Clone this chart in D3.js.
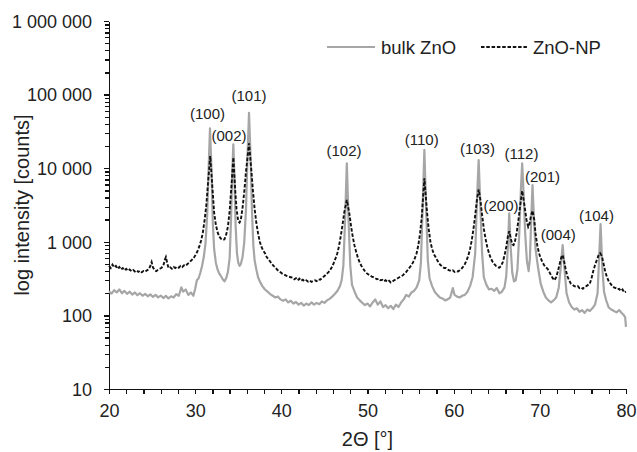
<!DOCTYPE html>
<html>
<head>
<meta charset="utf-8">
<script src="https://cdn.jsdelivr.net/npm/d3@7"></script>
<style>
  body { margin: 0; background: #fff; }
  svg { display: block; font-family: "Liberation Sans", Arial, sans-serif; }
  .axis path, .axis line { stroke: #111; stroke-width: 1.3px; shape-rendering: crispEdges; }
  .axis text { fill: #222; font-size: 18px; }
</style>
</head>
<body>
<svg width="637" height="452"></svg>
<script>
// 2θ [°] and counts
var bulkZnO = [
  [20.0,212],[20.3,198],[20.6,220],[20.9,205],[21.2,225],[21.5,200],[21.8,215],[22.1,196],[22.4,210],[22.7,192],
  [23.0,205],[23.3,188],[23.6,200],[23.9,185],[24.2,196],[24.5,182],[24.8,193],[25.1,178],[25.4,190],[25.7,176],
  [26.0,186],[26.3,172],[26.6,184],[26.9,170],[27.2,182],[27.5,175],[27.8,195],[28.1,185],[28.4,240],[28.6,210],
  [28.9,225],[29.2,190],[29.5,205],[29.8,185],[30.0,230],[30.2,300],[30.4,320],[30.6,380],[30.8,470],[31.0,620],
  [31.2,950],[31.4,2400],[31.55,9000],[31.72,34800],[31.9,9000],[32.05,1800],[32.2,800],[32.4,520],[32.6,420],[32.8,370],
  [33.0,340],[33.2,310],[33.4,290],[33.6,320],[33.8,390],[34.0,600],[34.15,1800],[34.3,8000],[34.43,21100],[34.55,8000],
  [34.7,1600],[34.85,700],[35.0,520],[35.15,470],[35.3,500],[35.5,620],[35.7,1000],[35.9,2800],[36.05,12000],[36.25,56700],
  [36.45,12000],[36.6,2500],[36.75,900],[36.9,560],[37.1,420],[37.3,330],[37.5,290],[37.8,250],[38.1,225],[38.4,210],
  [38.7,195],[39.0,185],[39.3,175],[39.6,180],[39.9,165],[40.2,158],[40.5,165],[40.8,150],[41.1,158],[41.4,145],
  [41.7,152],[42.0,140],[42.3,148],[42.6,136],[42.9,145],[43.2,138],[43.5,150],[43.8,140],[44.1,148],[44.4,142],
  [44.7,155],[45.0,148],[45.3,160],[45.6,168],[45.9,180],[46.2,195],[46.5,215],[46.8,250],[47.0,300],[47.2,480],
  [47.4,2000],[47.6,11650],[47.8,2000],[48.0,480],[48.2,260],[48.5,210],[48.8,175],[49.1,160],[49.4,148],[49.7,138],
  [50.0,145],[50.3,132],[50.6,150],[50.9,165],[51.2,140],[51.5,155],[51.8,130],[52.1,138],[52.4,125],[52.7,135],
  [53.0,122],[53.3,140],[53.6,130],[53.9,150],[54.2,165],[54.5,190],[54.8,180],[55.1,205],[55.4,215],[55.7,240],
  [56.0,300],[56.2,520],[56.4,3000],[56.6,17700],[56.8,3000],[57.0,560],[57.2,320],[57.5,250],[57.8,210],[58.1,190],
  [58.4,175],[58.7,170],[59.0,160],[59.3,165],[59.6,175],[59.9,235],[60.1,190],[60.4,180],[60.7,175],[61.0,185],
  [61.3,190],[61.6,210],[61.9,250],[62.2,330],[62.5,700],[62.7,3500],[62.9,12900],[63.1,3000],[63.3,700],[63.5,330],
  [63.8,260],[64.1,225],[64.4,230],[64.7,215],[65.0,235],[65.3,200],[65.6,210],[65.9,240],[66.1,340],[66.3,900],
  [66.45,2440],[66.6,900],[66.8,380],[67.0,290],[67.2,300],[67.4,420],[67.6,1200],[67.8,5000],[67.95,11650],[68.1,5000],
  [68.3,1300],[68.5,550],[68.7,400],[68.85,600],[69.0,2000],[69.15,5910],[69.3,2300],[69.5,800],[69.8,440],[70.1,270],
  [70.4,210],[70.7,175],[71.0,160],[71.3,150],[71.6,160],[71.9,175],[72.2,240],[72.4,420],[72.65,905],[72.9,380],
  [73.1,200],[73.4,150],[73.7,130],[74.0,120],[74.3,125],[74.6,112],[74.9,118],[75.2,108],[75.5,120],[75.8,115],
  [76.1,125],[76.4,140],[76.7,200],[76.85,500],[77.05,1745],[77.25,450],[77.45,210],[77.7,160],[78.0,128],[78.3,120],
  [78.6,115],[78.9,110],[79.2,118],[79.5,108],[79.7,102],[79.9,95],[80.0,70]
];

var znoNP = [
  [20.0,470],[20.2,440],[20.4,490],[20.6,450],[20.8,470],[21.0,430],[21.2,455],[21.4,420],[21.6,440],[21.8,410],
  [22.0,430],[22.2,405],[22.4,420],[22.6,400],[22.8,415],[23.0,395],[23.2,410],[23.4,390],[23.6,405],[23.8,385],
  [24.0,400],[24.2,392],[24.4,410],[24.6,420],[24.8,470],[24.95,530],[25.1,450],[25.3,410],[25.5,400],[25.7,420],
  [25.9,430],[26.1,445],[26.3,470],[26.5,580],[26.6,620],[26.75,520],[26.9,440],[27.1,450],[27.3,430],[27.5,455],
  [27.7,440],[27.9,460],[28.1,445],[28.3,470],[28.5,455],[28.7,480],[28.9,470],[29.1,500],[29.3,520],[29.5,550],
  [29.7,580],[29.9,620],[30.1,680],[30.3,760],[30.5,880],[30.7,1050],[30.9,1350],[31.1,2000],[31.3,3200],[31.5,6500],
  [31.75,14650],[32.0,5500],[32.2,2500],[32.4,1700],[32.6,1350],[32.8,1180],[33.0,1100],[33.2,1060],[33.4,1080],[33.6,1250],
  [33.8,1600],[34.0,2600],[34.2,5500],[34.43,14000],[34.65,5000],[34.8,2800],[35.0,1900],[35.15,1820],[35.3,2000],[35.5,2900],
  [35.7,4800],[35.9,9000],[36.25,21800],[36.5,10000],[36.7,5000],[36.9,2800],[37.1,1800],[37.3,1300],[37.5,1000],[37.7,850],
  [37.9,760],[38.1,700],[38.3,620],[38.5,580],[38.7,540],[38.9,500],[39.1,470],[39.3,450],[39.5,420],[39.7,400],
  [39.9,385],[40.1,370],[40.3,360],[40.5,350],[40.7,340],[40.9,335],[41.1,330],[41.3,325],[41.5,310],[41.7,320],
  [41.9,300],[42.1,315],[42.3,295],[42.5,305],[42.7,290],[42.9,300],[43.1,288],[43.3,298],[43.5,285],[43.7,295],
  [43.9,300],[44.1,292],[44.3,310],[44.5,305],[44.7,320],[44.9,335],[45.1,350],[45.3,370],[45.5,390],[45.7,420],
  [45.9,460],[46.1,520],[46.3,600],[46.5,700],[46.7,880],[46.9,1200],[47.1,1700],[47.3,2500],[47.6,3700],[47.9,2400],
  [48.1,1600],[48.3,1150],[48.5,880],[48.7,720],[48.9,600],[49.1,520],[49.3,470],[49.5,430],[49.7,400],[49.9,375],
  [50.1,360],[50.3,350],[50.5,335],[50.7,330],[50.9,320],[51.1,310],[51.3,315],[51.5,300],[51.7,305],[51.9,290],
  [52.1,300],[52.3,285],[52.5,295],[52.7,280],[52.9,290],[53.1,300],[53.3,310],[53.5,320],[53.7,330],[53.9,340],
  [54.1,350],[54.3,370],[54.5,390],[54.7,420],[54.9,450],[55.1,480],[55.3,530],[55.5,600],[55.7,700],[55.9,900],
  [56.1,1300],[56.3,2200],[56.6,7300],[56.9,2600],[57.1,1500],[57.3,1000],[57.5,800],[57.7,680],[57.9,620],[58.1,560],
  [58.3,510],[58.5,480],[58.7,460],[58.9,440],[59.1,440],[59.3,420],[59.5,410],[59.7,400],[59.9,410],[60.1,390],
  [60.3,400],[60.5,395],[60.7,410],[60.9,430],[61.1,460],[61.3,500],[61.5,560],[61.7,650],[61.9,800],[62.1,1050],
  [62.3,1500],[62.5,2300],[62.7,3700],[62.9,5170],[63.1,3700],[63.3,2300],[63.5,1500],[63.7,1100],[63.9,850],[64.1,700],
  [64.3,600],[64.5,540],[64.7,500],[64.9,470],[65.1,450],[65.3,445],[65.5,470],[65.7,530],[65.9,650],[66.1,850],
  [66.3,1200],[66.45,1390],[66.6,1150],[66.8,920],[66.95,900],[67.1,1000],[67.3,1300],[67.5,1900],[67.7,3000],[67.95,4950],
  [68.2,3200],[68.45,2000],[68.65,1600],[68.8,1750],[68.95,2200],[69.15,2650],[69.35,2000],[69.5,1300],[69.7,900],[69.9,700],
  [70.1,600],[70.3,530],[70.5,480],[70.7,450],[70.9,430],[71.1,390],[71.3,350],[71.5,320],[71.7,300],[71.9,330],
  [72.1,400],[72.3,500],[72.5,620],[72.65,660],[72.8,560],[73.0,420],[73.2,340],[73.4,300],[73.6,270],[73.8,260],
  [74.0,250],[74.2,245],[74.4,250],[74.6,235],[74.8,240],[75.0,230],[75.2,245],[75.4,250],[75.6,260],[75.8,270],
  [76.0,320],[76.2,400],[76.4,480],[76.6,560],[76.8,650],[77.0,700],[77.2,640],[77.4,500],[77.6,390],[77.8,330],
  [78.0,290],[78.2,270],[78.4,250],[78.6,240],[78.8,235],[79.0,225],[79.2,230],[79.4,215],[79.6,225],[79.8,205],
  [80.0,210]
];

// Miller index labels, anchored at (2θ, counts)
var peakLabels = ["(100)", "(002)", "(101)", "(102)", "(110)", "(103)", "(200)", "(112)", "(201)", "(004)", "(104)"];
var peakLabelTheta = [31.43, 33.93, 36.25, 47.27, 56.29, 62.76, 65.49, 67.87, 70.31, 72.14, 76.57];
var peakLabelCounts = [46500, 23400, 81900, 14650, 20650, 15600, 2620, 13340, 6495, 1058, 1917];

var xTicks = [20, 30, 40, 50, 60, 70, 80];
var xMinorTicks = d3.range(20, 81, 2);
var yTicks = [10, 100, 1000, 10000, 100000, 1000000];
var yTickLabels = ["10", "100", "1 000", "10 000", "100 000", "1 000 000"];
var seriesNames = ["bulk ZnO", "ZnO-NP"];

var svg = d3.select("svg");

var x = d3.scaleLinear().domain([20, 80]).range([109, 626]),
    y = d3.scaleLog().domain([10, 1000000]).range([389, 21]);

// minor log ticks 2..9 per decade
var yMinor = [];
yTicks.slice(0, -1).forEach(function(d) {
  for (var k = 2; k <= 9; k++) yMinor.push(d * k);
});

svg.append("g")
    .attr("class", "axis")
    .attr("transform", "translate(0,389)")
    .call(d3.axisBottom(x).tickValues(xMinorTicks).tickSize(4.5).tickSizeOuter(0).tickFormat(""));

svg.append("g")
    .attr("class", "axis")
    .attr("transform", "translate(0,389)")
    .call(d3.axisBottom(x).tickValues(xTicks).tickSize(5).tickSizeOuter(0).tickPadding(9))
  .selectAll("text")
    .attr("dy", null)
    .attr("y", 28);

svg.append("g")
    .attr("class", "axis")
    .attr("transform", "translate(109,0)")
    .call(d3.axisLeft(y).tickValues(yMinor).tickSize(4).tickSizeOuter(0).tickFormat(""));

svg.append("g")
    .attr("class", "axis")
    .attr("transform", "translate(109,0)")
    .call(d3.axisLeft(y).tickValues(yTicks).tickSize(5).tickSizeOuter(0).tickPadding(12)
      .tickFormat(function(d, i) { return yTickLabels[i]; }))
  .selectAll("text")
    .attr("dy", "0.35em");

var line = d3.line()
    .x(function(d) { return x(d[0]); })
    .y(function(d) { return y(d[1]); });

svg.append("path")
    .datum(bulkZnO)
    .attr("fill", "none")
    .attr("stroke", "#a6a6a6")
    .attr("stroke-width", 2.2)
    .attr("stroke-linejoin", "round")
    .attr("d", line);

svg.append("path")
    .datum(znoNP)
    .attr("fill", "none")
    .attr("stroke", "#111")
    .attr("stroke-width", 1.9)
    .attr("stroke-dasharray", "3.5,1.8")
    .attr("d", line);

// peak labels
svg.append("g").selectAll("text")
    .data(peakLabels)
  .enter().append("text")
    .attr("x", function(d, i) { return x(peakLabelTheta[i]); })
    .attr("y", function(d, i) { return y(peakLabelCounts[i]); })
    .attr("text-anchor", "middle")
    .attr("font-size", "15px")
    .attr("fill", "#222")
    .text(function(d) { return d; });

// axis titles
svg.append("text")
    .attr("transform", "translate(29,205) rotate(-90)")
    .attr("text-anchor", "middle")
    .attr("font-size", "20px")
    .attr("fill", "#222")
    .text("log intensity [counts]");

svg.append("text")
    .attr("x", x(50))
    .attr("y", 446)
    .attr("text-anchor", "middle")
    .attr("font-size", "20px")
    .attr("fill", "#222")
    .text("2Θ [°]");

// legend
var legend = svg.append("g").attr("font-size", "18.5px").attr("fill", "#222");

legend.append("line")
    .attr("x1", 327).attr("x2", 375).attr("y1", 47).attr("y2", 47)
    .attr("stroke", "#a6a6a6").attr("stroke-width", 2.2);
legend.append("text").attr("x", 381).attr("y", 53.5).text(seriesNames[0]);

legend.append("line")
    .attr("x1", 481).attr("x2", 528).attr("y1", 47).attr("y2", 47)
    .attr("stroke", "#111").attr("stroke-width", 1.9).attr("stroke-dasharray", "3.5,1.8");
legend.append("text").attr("x", 533).attr("y", 53.5).text(seriesNames[1]);
</script>
</body>
</html>
